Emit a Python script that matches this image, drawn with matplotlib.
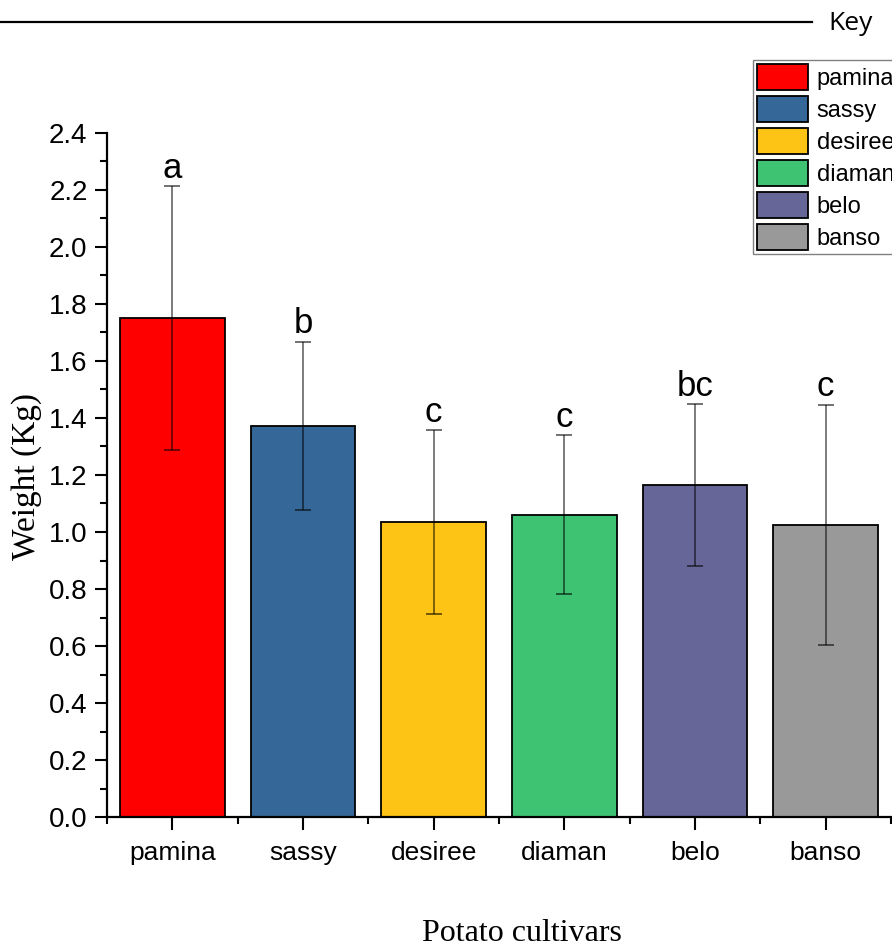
import matplotlib.pyplot as plt
from matplotlib.lines import Line2D
from matplotlib.patches import Patch
from matplotlib.ticker import MultipleLocator, FixedLocator

cultivars = ['pamina', 'sassy', 'desiree', 'diaman', 'belo', 'banso']
weights = [1.751, 1.372, 1.035, 1.060, 1.165, 1.025]
errors = [0.463, 0.295, 0.322, 0.279, 0.283, 0.421]
letters = ['a', 'b', 'c', 'c', 'bc', 'c']
colors = ['#FF0000', '#356898', '#FDC315', '#3EC373', '#666699', '#999999']

fig = plt.figure(figsize=(8.92, 9.47), dpi=100)
ax = fig.add_axes([107 / 892, 130 / 947, 784 / 892, 684 / 947])

x = list(range(1, len(cultivars) + 1))
ax.bar(x, weights, width=0.8, color=colors, edgecolor='black', linewidth=1.3, zorder=2)
ax.errorbar(x, weights, yerr=errors, fmt='none', ecolor='black', alpha=0.6,
            elinewidth=1.2, capsize=5.5, capthick=1.3, zorder=3)

for xi, w, e, t in zip(x, weights, errors, letters):
    ax.text(xi, w + e + 0.005, t, ha='center', va='bottom', fontsize=25,
            family='Liberation Sans')

ax.set_xlim(0.5, 6.5)
ax.set_ylim(0, 2.4)
ax.set_xticks(x)
ax.set_xticklabels(cultivars)
ax.xaxis.set_minor_locator(FixedLocator([i + 0.5 for i in range(0, 7)]))
ax.yaxis.set_major_locator(MultipleLocator(0.2))
ax.yaxis.set_minor_locator(MultipleLocator(0.1))
ax.yaxis.set_major_formatter(plt.FuncFormatter(lambda v, p: f'{v:.1f}'))

for side in ['top', 'right']:
    ax.spines[side].set_visible(False)
for side in ['left', 'bottom']:
    ax.spines[side].set_linewidth(1.6)
ax.tick_params(which='major', direction='out', length=9, width=1.5)
ax.tick_params(which='minor', direction='out', length=5, width=1.5)
ax.tick_params(axis='x', which='major', pad=8, labelsize=19)
ax.tick_params(axis='y', which='major', pad=5, labelsize=20)
for lab in ax.get_xticklabels() + ax.get_yticklabels():
    lab.set_family('Liberation Sans')

fig.text(27 / 892, 1 - 477 / 947, 'Weight (Kg)', rotation=90, ha='center', va='center',
         fontsize=24, family='Liberation Serif')
fig.text(522 / 892, 1 - 933 / 947, 'Potato cultivars', ha='center', va='center',
         fontsize=23, family='Liberation Serif')

# key header line
fig.add_artist(Line2D([0, 812 / 892], [1 - 22 / 947] * 2, color='black', linewidth=1.6))
fig.text(851 / 892, 1 - 23 / 947, 'Key', ha='center', va='center', fontsize=19,
         family='Open Sans')

handles = [Patch(facecolor=c, edgecolor='black', linewidth=1.3) for c in colors]
leg = fig.legend(handles, cultivars, loc='upper left', bbox_to_anchor=(753 / 892, 1 - 60 / 947),
                 prop={'family': 'Liberation Sans', 'size': 17}, handlelength=2.2,
                 handleheight=1.33, labelspacing=0.25, handletextpad=0.34, borderpad=0.15,
                 borderaxespad=0, fancybox=False, edgecolor='gray', framealpha=1)
leg.get_frame().set_linewidth(1.0)

fig.savefig('out.png', dpi=100)
